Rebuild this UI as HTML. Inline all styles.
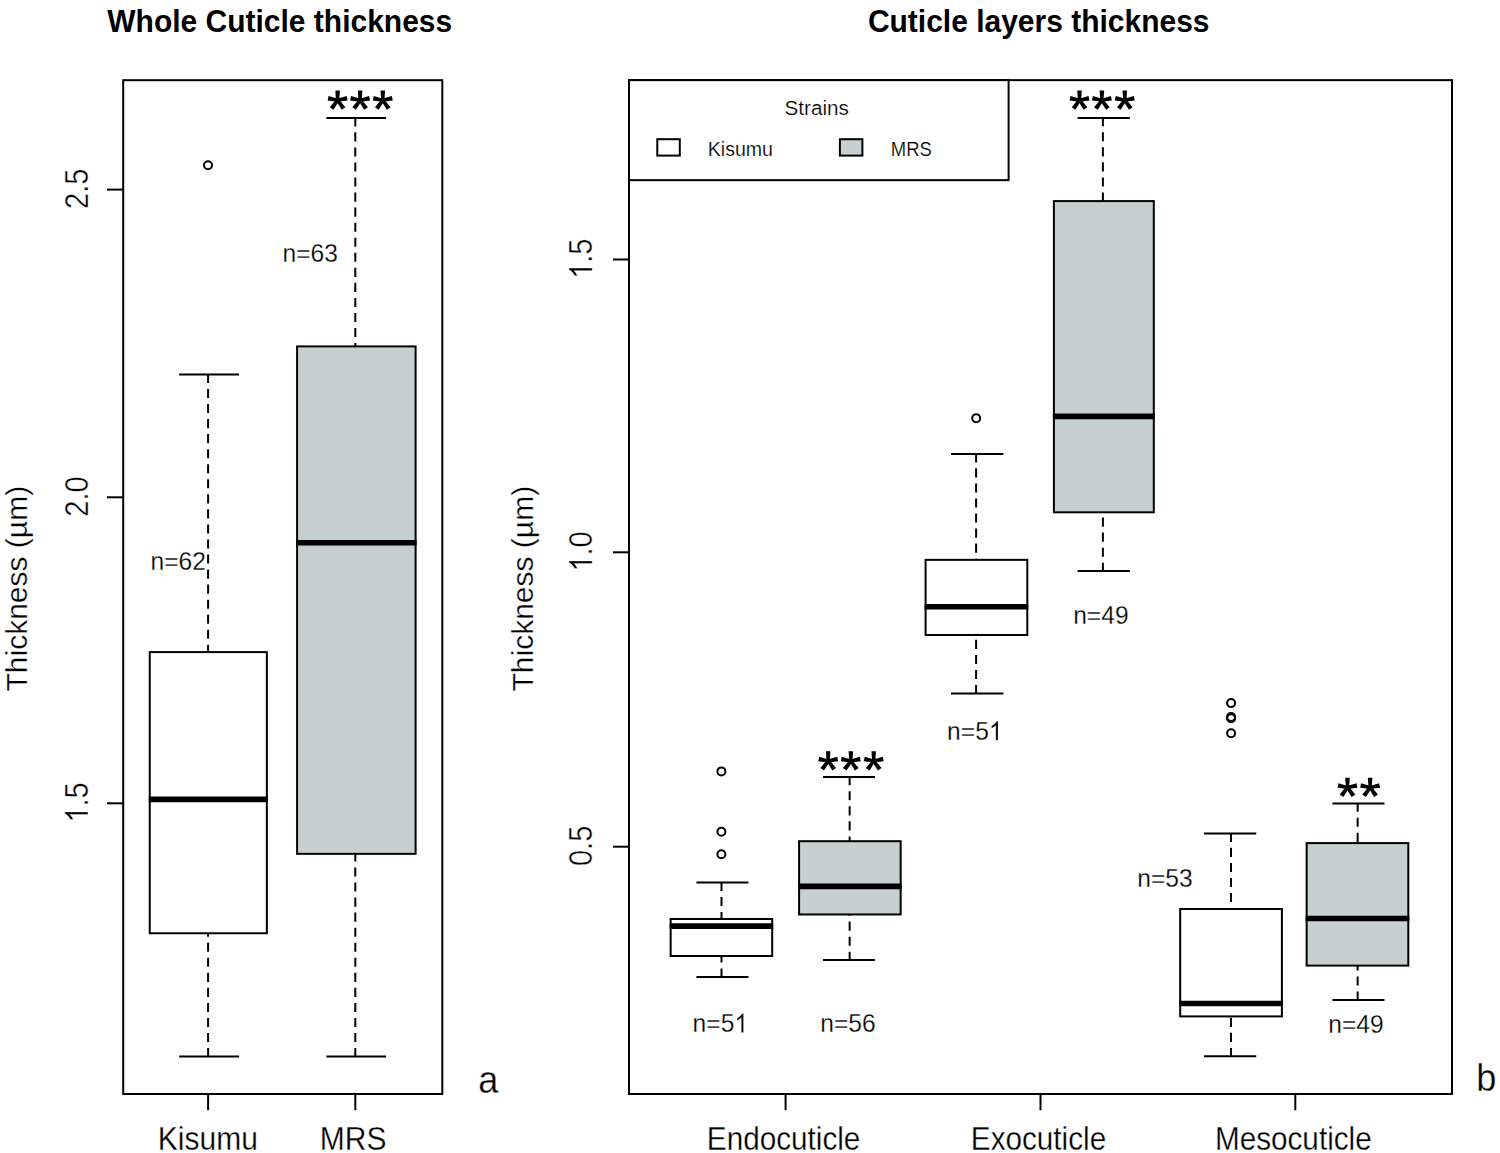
<!DOCTYPE html>
<html><head><meta charset="utf-8"><title>Cuticle thickness</title>
<style>
html,body{margin:0;padding:0;background:#fff;}
body{width:1500px;height:1153px;overflow:hidden;}
svg{display:block;font-family:"Liberation Sans",sans-serif;}
.ln{stroke:#000;stroke-width:2;}
.bx{stroke:#000;stroke-width:2;}
.dash{stroke:#000;stroke-width:2;stroke-dasharray:9.1 5.95;stroke-dashoffset:0.7;}
.med{stroke:#000;stroke-width:5.6;}
.pt{fill:none;stroke:#000;stroke-width:2;}
.ax{font-size:30px;fill:#000;stroke:#fff;stroke-width:0.3px;}
.ttl{font-size:30px;font-weight:bold;fill:#000;}
.ab{font-size:36px;fill:#000;stroke:#fff;stroke-width:0.3px;}
.nn{font-size:24.6px;fill:#000;stroke:#fff;stroke-width:0.4px;}
.lg{font-size:20px;fill:#000;stroke:#fff;stroke-width:0.2px;}
.tk{fill:#000;stroke:#fff;stroke-width:0.42px;}
.tk *{vector-effect:non-scaling-stroke;}
.tn{stroke-width:0.25px;}
.star{font-size:50px;font-weight:bold;fill:#000;}
</style></head>
<body>
<svg width="1500" height="1153" viewBox="0 0 1500 1153">
<defs><g id="st"><polygon points="-1.6,0 1.6,0 2.25,-9.7 -2.25,-9.7" transform="rotate(0)"/><polygon points="-1.6,0 1.6,0 2.25,-9.7 -2.25,-9.7" transform="rotate(78)"/><polygon points="-1.6,0 1.6,0 2.25,-9.7 -2.25,-9.7" transform="rotate(-78)"/><polygon points="-1.6,0 1.6,0 2.25,-10.2 -2.25,-10.2" transform="rotate(144)"/><polygon points="-1.6,0 1.6,0 2.25,-10.2 -2.25,-10.2" transform="rotate(-144)"/><circle r="2.4"/></g></defs>
<rect x="0" y="0" width="1500" height="1153" fill="#fff"/>
<rect x="123.2" y="80.2" width="319.10" height="1013.80" fill="none" class="ln"/>
<line x1="107" y1="189.6" x2="123.2" y2="189.6" class="ln"/>
<g class="tk" transform="translate(88,188.80) rotate(-90) scale(0.97,1.08)"><text x="-20.85" y="0" style="font-size:30px">2.5</text></g>
<line x1="107" y1="497.3" x2="123.2" y2="497.3" class="ln"/>
<g class="tk" transform="translate(88,496.50) rotate(-90) scale(0.97,1.08)"><text x="-20.85" y="0" style="font-size:30px">2.0</text></g>
<line x1="107" y1="803.3" x2="123.2" y2="803.3" class="ln"/>
<g class="tk" transform="translate(88,802.50) rotate(-90) scale(0.97,1.08)"><text x="-20.85" y="0" style="font-size:30px"><tspan style="fill:none;stroke:none">1</tspan>.5</text><path d="M763 0H583V1147Q518 1085 412.5 1023Q307 961 223 930V1104Q374 1175 487 1276Q600 1377 647 1472H763Z" transform="translate(-20.85,0) scale(0.01465,-0.01465)"/></g>
<text transform="translate(27,588.7) rotate(-90)" class="ax" text-anchor="middle">Thickness (µm)</text>
<line x1="208.1" y1="1094.0" x2="208.1" y2="1110.2" class="ln"/>
<text transform="translate(207.79999999999998,1149.8) scale(0.915,1.0)" class="ax" text-anchor="middle" style="font-size:32.8px">Kisumu</text>
<line x1="355.3" y1="1094.0" x2="355.3" y2="1110.2" class="ln"/>
<text transform="translate(353.1,1149.8) scale(0.915,1.0)" class="ax" text-anchor="middle" style="font-size:32.8px">MRS</text>
<text transform="translate(279.7,32) scale(0.9375,1.0)" class="ttl" text-anchor="middle" style="font-size:32px">Whole Cuticle thickness</text>
<text transform="translate(488.3,1092.7) scale(0.95,1.0)" class="ab" text-anchor="middle" style="font-size:38px">a</text>
<line x1="208.1" y1="374.6" x2="208.1" y2="652.1" class="dash"/>
<line x1="208.1" y1="1056.45" x2="208.1" y2="933.25" class="dash"/>
<line x1="179.15" y1="374.6" x2="239.05" y2="374.6" class="ln"/>
<line x1="179.15" y1="1056.45" x2="239.05" y2="1056.45" class="ln"/>
<rect x="149.75" y="652.1" width="117.10" height="281.15" fill="#fff" class="bx"/>
<line x1="148.75" y1="799.4" x2="267.85" y2="799.4" class="med"/>
<circle cx="208" cy="165.3" r="4" class="pt"/>
<line x1="355.3" y1="118.0" x2="355.3" y2="346.4" class="dash"/>
<line x1="355.3" y1="1056.45" x2="355.3" y2="853.85" class="dash"/>
<line x1="326.4" y1="118.0" x2="386.1" y2="118.0" class="ln"/>
<line x1="326.4" y1="1056.45" x2="386.1" y2="1056.45" class="ln"/>
<rect x="297.1" y="346.4" width="118.50" height="507.45" fill="#c5d1d0" class="bx"/>
<line x1="296.1" y1="542.8" x2="416.6" y2="542.8" class="med"/>
<use href="#st" x="337.6" y="100.2"/>
<use href="#st" x="360.1" y="100.2"/>
<use href="#st" x="382.8" y="100.2"/>
<g class="tk tn" transform="translate(310.2,262.4) scale(0.932,1)"><text x="-29.73" y="0" style="font-size:26.4px">n=63</text></g>
<g class="tk tn" transform="translate(178.2,570.4) scale(0.932,1)"><text x="-29.73" y="0" style="font-size:26.4px">n=62</text></g>
<rect x="629.0" y="80.15" width="823.00" height="1013.85" fill="none" class="ln"/>
<rect x="629.0" y="80.15" width="379.60" height="100" fill="#fff" class="ln"/>
<line x1="613" y1="259.5" x2="629.0" y2="259.5" class="ln"/>
<g class="tk" transform="translate(592.2,258.70) rotate(-90) scale(0.97,1.08)"><text x="-20.85" y="0" style="font-size:30px"><tspan style="fill:none;stroke:none">1</tspan>.5</text><path d="M763 0H583V1147Q518 1085 412.5 1023Q307 961 223 930V1104Q374 1175 487 1276Q600 1377 647 1472H763Z" transform="translate(-20.85,0) scale(0.01465,-0.01465)"/></g>
<line x1="613" y1="552.3" x2="629.0" y2="552.3" class="ln"/>
<g class="tk" transform="translate(592.2,551.50) rotate(-90) scale(0.97,1.08)"><text x="-20.85" y="0" style="font-size:30px"><tspan style="fill:none;stroke:none">1</tspan>.0</text><path d="M763 0H583V1147Q518 1085 412.5 1023Q307 961 223 930V1104Q374 1175 487 1276Q600 1377 647 1472H763Z" transform="translate(-20.85,0) scale(0.01465,-0.01465)"/></g>
<line x1="613" y1="846.7" x2="629.0" y2="846.7" class="ln"/>
<g class="tk" transform="translate(592.2,845.90) rotate(-90) scale(0.97,1.08)"><text x="-20.85" y="0" style="font-size:30px">0.5</text></g>
<text transform="translate(533,588.7) rotate(-90)" class="ax" text-anchor="middle">Thickness (µm)</text>
<line x1="785.6" y1="1094.0" x2="785.6" y2="1110.2" class="ln"/>
<text transform="translate(783.6,1149.9) scale(0.906,1.0)" class="ax" text-anchor="middle" style="font-size:32.8px">Endocuticle</text>
<line x1="1040.5" y1="1094.0" x2="1040.5" y2="1110.2" class="ln"/>
<text transform="translate(1038.5,1149.9) scale(0.906,1.0)" class="ax" text-anchor="middle" style="font-size:32.8px">Exocuticle</text>
<line x1="1295.3" y1="1094.0" x2="1295.3" y2="1110.2" class="ln"/>
<text transform="translate(1293.3,1149.9) scale(0.906,1.0)" class="ax" text-anchor="middle" style="font-size:32.8px">Mesocuticle</text>
<text transform="translate(1038.7,31.6) scale(0.9375,1.0)" class="ttl" text-anchor="middle" style="font-size:32px">Cuticle layers thickness</text>
<text transform="translate(1486.2,1091.2) scale(0.95,1.0)" class="ab" text-anchor="middle" style="font-size:38px">b</text>
<text x="784.6" y="115" class="lg" text-anchor="start" textLength="64.3" lengthAdjust="spacingAndGlyphs">Strains</text>
<rect x="657.3" y="139.2" width="22.5" height="16.4" fill="#fff" class="ln"/>
<rect x="839.9" y="139.2" width="22.5" height="16.4" fill="#c5d1d0" class="ln"/>
<text x="707.8" y="155.9" class="lg" text-anchor="start" textLength="65.2" lengthAdjust="spacingAndGlyphs">Kisumu</text>
<text x="890.8" y="155.9" class="lg" text-anchor="start" textLength="41" lengthAdjust="spacingAndGlyphs">MRS</text>
<line x1="721.5" y1="882.6" x2="721.5" y2="919.0" class="dash"/>
<line x1="721.5" y1="976.9" x2="721.5" y2="956.0" class="dash"/>
<line x1="696.4" y1="882.6" x2="748.5" y2="882.6" class="ln"/>
<line x1="696.4" y1="976.9" x2="748.5" y2="976.9" class="ln"/>
<rect x="670.65" y="919.0" width="101.55" height="37.00" fill="#fff" class="bx"/>
<line x1="669.65" y1="926.1" x2="773.2" y2="926.1" class="med"/>
<circle cx="721.4" cy="771.4" r="4" class="pt"/>
<circle cx="721.4" cy="831.7" r="4" class="pt"/>
<circle cx="721.4" cy="854.3" r="4" class="pt"/>
<line x1="849.65" y1="776.9" x2="849.65" y2="841.2" class="dash"/>
<line x1="849.65" y1="960.1" x2="849.65" y2="914.45" class="dash"/>
<line x1="823.0" y1="776.9" x2="874.9" y2="776.9" class="ln"/>
<line x1="823.0" y1="960.1" x2="874.9" y2="960.1" class="ln"/>
<rect x="799.1" y="841.2" width="101.55" height="73.25" fill="#c5d1d0" class="bx"/>
<line x1="798.1" y1="886.4" x2="901.65" y2="886.4" class="med"/>
<use href="#st" x="828.2" y="761.0"/>
<use href="#st" x="850.8" y="761.0"/>
<use href="#st" x="873.7" y="761.0"/>
<line x1="976.1" y1="454.0" x2="976.1" y2="559.85" class="dash"/>
<line x1="976.1" y1="693.4" x2="976.1" y2="635.0" class="dash"/>
<line x1="951.0" y1="454.0" x2="1003.4" y2="454.0" class="ln"/>
<line x1="951.0" y1="693.4" x2="1003.4" y2="693.4" class="ln"/>
<rect x="925.6" y="559.85" width="101.70" height="75.15" fill="#fff" class="bx"/>
<line x1="924.6" y1="606.7" x2="1028.3" y2="606.7" class="med"/>
<circle cx="976.2" cy="418.2" r="4" class="pt"/>
<line x1="1102.9" y1="117.9" x2="1102.9" y2="201.1" class="dash"/>
<line x1="1102.9" y1="571.1" x2="1102.9" y2="512.3" class="dash"/>
<line x1="1077.6" y1="117.9" x2="1129.9" y2="117.9" class="ln"/>
<line x1="1077.6" y1="571.1" x2="1129.9" y2="571.1" class="ln"/>
<rect x="1053.9" y="201.1" width="99.90" height="311.20" fill="#c5d1d0" class="bx"/>
<line x1="1052.9" y1="416.4" x2="1154.8" y2="416.4" class="med"/>
<use href="#st" x="1079.5" y="100.2"/>
<use href="#st" x="1101.9" y="100.2"/>
<use href="#st" x="1124.8" y="100.2"/>
<line x1="1231.0" y1="833.5" x2="1231.0" y2="909.0" class="dash"/>
<line x1="1231.0" y1="1056.3" x2="1231.0" y2="1016.4" class="dash"/>
<line x1="1204.05" y1="833.5" x2="1256.25" y2="833.5" class="ln"/>
<line x1="1204.05" y1="1056.3" x2="1256.25" y2="1056.3" class="ln"/>
<rect x="1180.2" y="909.0" width="101.70" height="107.40" fill="#fff" class="bx"/>
<line x1="1179.2" y1="1003.5" x2="1282.9" y2="1003.5" class="med"/>
<circle cx="1231.1" cy="703.1" r="4" class="pt"/>
<circle cx="1231.1" cy="716.9" r="4" class="pt"/>
<circle cx="1231.1" cy="718.3" r="4" class="pt"/>
<circle cx="1231.1" cy="733.2" r="4" class="pt"/>
<line x1="1357.65" y1="803.4" x2="1357.65" y2="843.1" class="dash"/>
<line x1="1357.65" y1="999.9" x2="1357.65" y2="965.6" class="dash"/>
<line x1="1332.4" y1="803.4" x2="1384.5" y2="803.4" class="ln"/>
<line x1="1332.4" y1="999.9" x2="1384.5" y2="999.9" class="ln"/>
<rect x="1306.65" y="843.1" width="101.65" height="122.50" fill="#c5d1d0" class="bx"/>
<line x1="1305.65" y1="918.5" x2="1409.3" y2="918.5" class="med"/>
<use href="#st" x="1347.5" y="787.5"/>
<use href="#st" x="1370.1" y="787.5"/>
<g class="tk tn" transform="translate(720.3,1032.4) scale(0.932,1)"><text x="-29.73" y="0" style="font-size:26.4px">n=5<tspan style="fill:none;stroke:none">1</tspan></text><path d="M763 0H583V1147Q518 1085 412.5 1023Q307 961 223 930V1104Q374 1175 487 1276Q600 1377 647 1472H763Z" transform="translate(15.05,0) scale(0.01289,-0.01289)"/></g>
<g class="tk tn" transform="translate(848,1032.4) scale(0.932,1)"><text x="-29.73" y="0" style="font-size:26.4px">n=56</text></g>
<g class="tk tn" transform="translate(974.8,740.3) scale(0.932,1)"><text x="-29.73" y="0" style="font-size:26.4px">n=5<tspan style="fill:none;stroke:none">1</tspan></text><path d="M763 0H583V1147Q518 1085 412.5 1023Q307 961 223 930V1104Q374 1175 487 1276Q600 1377 647 1472H763Z" transform="translate(15.05,0) scale(0.01289,-0.01289)"/></g>
<g class="tk tn" transform="translate(1100.9,623.5) scale(0.932,1)"><text x="-29.73" y="0" style="font-size:26.4px">n=49</text></g>
<g class="tk tn" transform="translate(1165,887.0) scale(0.932,1)"><text x="-29.73" y="0" style="font-size:26.4px">n=53</text></g>
<g class="tk tn" transform="translate(1356,1032.7) scale(0.932,1)"><text x="-29.73" y="0" style="font-size:26.4px">n=49</text></g>
</svg>
</body></html>
